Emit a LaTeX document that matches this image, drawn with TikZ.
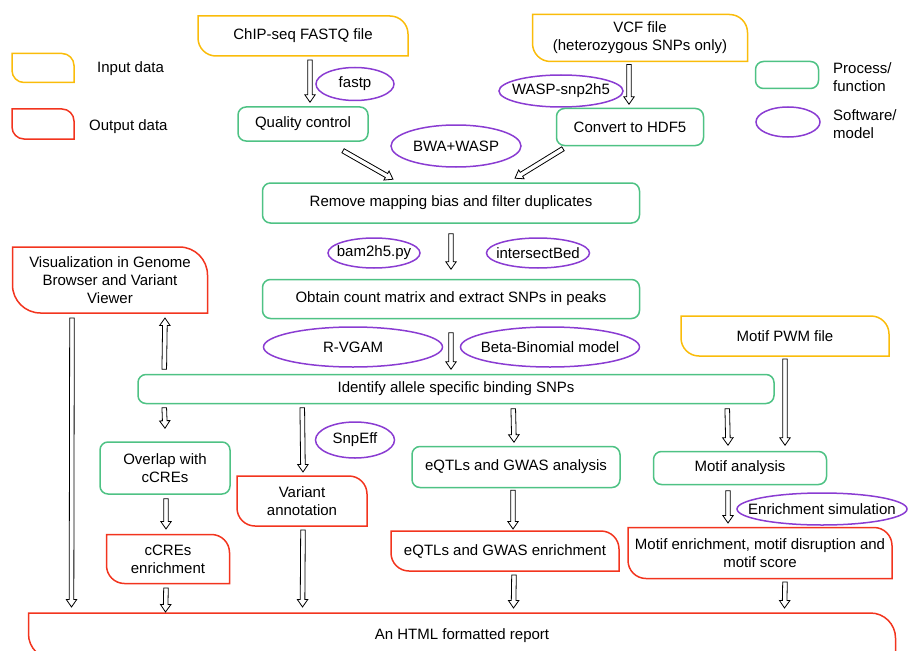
\documentclass[tikz,border=0pt]{standalone}
\usepackage{fontspec}
\setmainfont{Liberation Sans}
\usepackage{tikz}
\usetikzlibrary{shapes.geometric, calc}
\definecolor{jauneIn}{RGB}{250, 188, 10}
\definecolor{rougeOut}{RGB}{242, 52, 30}
\definecolor{vertProc}{RGB}{78, 194, 132}
\definecolor{violetSoft}{RGB}{138, 60, 210}

\begin{document}
\begin{tikzpicture}[x=1pt, y=1pt,
  every node/.style={font=\fontsize{15}{18}\selectfont},
  sz/.style 2 args={minimum width=#1pt, minimum height=#2pt},
  proc/.style={rectangle, rounded corners=8pt, draw=vertProc,
    line width=1.5pt, align=center, inner sep=1pt},
  soft/.style={ellipse, draw=violetSoft, line width=1.5pt, inner sep=0pt,
    execute at begin node={\hbox to 0pt\bgroup\hss},
    execute at end node={\hss\egroup}},
  dframe/.style 2 args={rectangle, outer sep=0pt, inner sep=1pt, align=center,
    append after command={\pgfextra{\let\dnode\tikzlastnode
      \pgfinterruptpath
      \draw[#1, line width=1.5pt] (\dnode.north west)
        -- ([xshift=-#2]\dnode.north east)
        arc[start angle=90, end angle=0, radius=#2] -- (\dnode.south east)
        -- ([xshift=#2]\dnode.south west)
        arc[start angle=270, end angle=180, radius=#2] -- cycle;
      \endpgfinterruptpath}}},
  indata/.style={dframe={jauneIn}{#1}}, indata/.default=18pt,
  outdata/.style={dframe={rougeOut}{#1}}, outdata/.default=18pt,
  lbl/.style={anchor=west, align=left, inner sep=0pt},
  arr/.style={draw=black, line width=0.8pt, fill=white,
    to path={let \p1=($(\tikztotarget)!7.5pt!(\tikztostart)$) in
      ($(\tikztostart)!2.3pt!90:(\tikztotarget)$)
      -- ($(\p1)!2.3pt!-90:(\tikztostart)$)
      -- ($(\p1)!5.2pt!-90:(\tikztostart)$)
      -- (\tikztotarget)
      -- ($(\p1)!5.2pt!90:(\tikztostart)$)
      -- ($(\p1)!2.3pt!90:(\tikztostart)$)
      -- ($(\tikztostart)!2.3pt!-90:(\tikztotarget)$) -- cycle}},
]
\useasboundingbox (0,-650) rectangle (909,0);

\node[indata=12pt, sz={62}{29}]  (legin)   at (43,-68) {};
\node[lbl]                       (legintx) at (97,-69) {Input data};
\node[outdata=12pt, sz={62}{30}] (legout)  at (43,-124) {};
\node[lbl]                       (legoutx) at (89,-127) {Output data};
\node[proc, sz={63}{27}]         (legproc) at (787,-75) {};
\node[lbl]                       (legprox) at (833,-77) {Process/\\function};
\node[soft, sz={64}{30}]         (legsoft) at (788,-122) {};
\node[lbl]                       (legsofx) at (833,-124) {Software/\\model};

\node[indata, sz={210}{40}]  (chip)   at (303,-36) {ChIP-seq FASTQ file};
\node[indata, sz={215}{47}]  (vcf)    at (640,-38)
  {VCF file\\(heterozygous SNPs only)};
\node[soft, sz={78}{33}]     (fastp)  at (355,-84) {fastp};
\node[proc, sz={130}{34}]    (qc)     at (303,-124) {Quality control};
\node[soft, sz={124}{32}]    (wasp)   at (561,-91) {WASP-snp2h5};
\node[proc, sz={147}{37}]    (hdf)    at (630,-127) {Convert to HDF5};
\node[soft, sz={130}{42}]    (bwa)    at (456,-146) {BWA+WASP};
\node[proc, sz={377}{40}]    (rmb)    at (451,-203)
  {Remove mapping bias and filter duplicates};
\node[soft, sz={92}{30}]     (bam)    at (374,-253) {bam2h5.py};
\node[soft, sz={103}{30}]    (isb)    at (538,-253) {intersectBed};
\node[proc, sz={377}{39}]    (cnt)    at (451,-299)
  {Obtain count matrix and extract SNPs in peaks};
\node[soft, sz={179}{40}]    (vgam)   at (353,-347) {R-VGAM};
\node[soft, sz={179}{40}]    (bbm)    at (550,-347) {Beta-Binomial model};
\node[proc, sz={636}{29}]    (asb)    at (456,-389)
  {Identify allele specific binding SNPs};
\node[outdata=28pt, sz={195}{66}] (vis) at (110,-280)
  {Visualization in Genome\\Browser and Variant\\Viewer};
\node[indata, sz={208}{40}]  (pwm)    at (785,-336) {Motif PWM file};
\node[proc, sz={130}{52}]    (ccre)   at (165,-468) {Overlap with\\cCREs};
\node[outdata, sz={123}{49}] (ccenr)  at (168,-559) {cCREs\\enrichment};
\node[soft, sz={79}{36}]     (snpeff) at (355,-440) {SnpEff};
\node[outdata, sz={130}{50}] (vann)   at (302,-501) {Variant\\annotation};
\node[proc, sz={208}{41}]    (eqtl)   at (516,-467) {eQTLs and GWAS analysis};
\node[outdata, sz={228}{40}] (eqenr)  at (505,-551)
  {eQTLs and GWAS enrichment};
\node[proc, sz={173}{33}]    (motif)  at (740,-468) {Motif analysis};
\node[soft, sz={170}{32}]    (sim)    at (822,-509) {Enrichment simulation};
\node[outdata, sz={264}{51}] (menr)   at (760,-553)
  {Motif enrichment, motif disruption and\\motif score};
\node[outdata=25pt, sz={867}{46}] (rep) at (462,-636)
  {An HTML formatted report};

\draw[arr] ([xshift=7pt,yshift=-4pt]chip.south) to ([xshift=7pt,yshift=4pt]qc.north);
\draw[arr] ([xshift=-11pt,yshift=-3pt]vcf.south) to ([xshift=-1pt,yshift=3.5pt]hdf.north);
\draw[arr] ([xshift=40pt,yshift=-9pt]qc.south) to ([xshift=-58pt,yshift=3pt]rmb.north);
\draw[arr] ([xshift=-67pt,yshift=-2.5pt]hdf.south) to ([xshift=64pt,yshift=4pt]rmb.north);
\draw[arr] ([yshift=-10pt]rmb.south) to ([yshift=9.5pt]cnt.north);
\draw[arr] ([yshift=-13.5pt]cnt.south) to ([xshift=-5pt,yshift=4.5pt]asb.north);
\draw[arr] ([xshift=27pt,yshift=4.5pt]asb.north west) to ([xshift=55pt,yshift=-5pt]vis.south);
\draw[arr] ([xshift=-38pt,yshift=-5pt]vis.south) to ([xshift=43pt,yshift=6pt]rep.north west);
\draw[arr] ([xshift=27pt,yshift=-3.5pt]asb.south west) to ([yshift=13pt]ccre.north);
\draw[arr] ([xshift=1pt,yshift=-4pt]ccre.south) to ([xshift=-2pt,yshift=5.5pt]ccenr.north);
\draw[arr] ([xshift=-2pt,yshift=-4.5pt]ccenr.south) to ([xshift=137pt,yshift=1pt]rep.north west);
\draw[arr] ([xshift=165pt,yshift=-3.5pt]asb.south west) to ([xshift=1pt,yshift=4pt]vann.north);
\draw[arr] ([xshift=1pt,yshift=-4pt]vann.south) to ([xshift=274pt,yshift=6pt]rep.north west);
\draw[arr] ([xshift=376pt,yshift=-4.5pt]asb.south west) to ([xshift=-2pt,yshift=3.5pt]eqtl.north);
\draw[arr] ([xshift=-3pt,yshift=-2pt]eqtl.south) to ([xshift=8pt,yshift=2pt]eqenr.north);
\draw[arr] ([xshift=9pt,yshift=-4pt]eqenr.south) to ([xshift=485pt,yshift=5pt]rep.north west);
\draw[arr] ([xshift=590pt,yshift=-4.5pt]asb.south west) to ([xshift=-12pt,yshift=5.5pt]motif.north);
\draw[arr] ([yshift=-3pt]pwm.south) to ([xshift=45pt,yshift=5.5pt]motif.north);
\draw[arr] ([xshift=-12pt,yshift=-5.5pt]motif.south) to ([xshift=-32pt,yshift=4.5pt]menr.north);
\draw[arr] ([xshift=25pt,yshift=-3.5pt]menr.south) to ([xshift=756pt,yshift=5pt]rep.north west);
\end{tikzpicture}
\end{document}
